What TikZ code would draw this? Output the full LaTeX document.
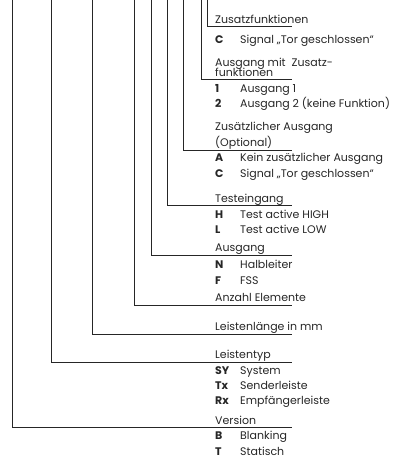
\documentclass[tikz,border=0pt]{standalone}
\usepackage{fontspec}
\setmainfont{Poppins}
\begin{document}
\begin{tikzpicture}[x=1pt,y=-1pt,
  conn/.style={line width=0.9pt, draw=black!85},
  txt/.style={anchor=base west, inner sep=0pt, font=\fontsize{11}{12}\selectfont, text=black!85},
  code/.style={txt, font=\fontsize{11}{12}\selectfont\bfseries}]
\useasboundingbox (0,0) rectangle (398,460);
% headings
\node[txt] (h1) at (215,23.3) {Zusatzfunktionen};
\node[code] (c1C) at (215,43.7) {C};
\node[txt] (d1C) at (240,43.7) {Signal „Tor geschlossen“};
\node[txt] (h2a) at (215,66.3) {Ausgang mit\ \ Zusatz-};
\node[txt] (h2b) at (215,76) {funktionen};
\node[code] (c21) at (215,92.7) {1};
\node[txt] (d21) at (240,92.7) {Ausgang 1};
\node[code] (c22) at (215,107.3) {2};
\node[txt] (d22) at (240,107.3) {Ausgang 2 (keine Funktion)};
\node[txt] (h3a) at (215,130.7) {Zusätzlicher Ausgang};
\node[txt] (h3b) at (215,146.7) {(Optional)};
\node[code] (c3A) at (215,161.7) {A};
\node[txt] (d3A) at (240,161.7) {Kein zusätzlicher Ausgang};
\node[code] (c3C) at (215,177.7) {C};
\node[txt] (d3C) at (240,177.7) {Signal „Tor geschlossen“};
\node[txt] (h4) at (215,202.3) {Testeingang};
\node[code] (c4H) at (215,218.3) {H};
\node[txt] (d4H) at (240,218.3) {Test active HIGH};
\node[code] (c4L) at (215,233.3) {L};
\node[txt] (d4L) at (240,233.3) {Test active LOW};
\node[txt] (h5) at (215,251.7) {Ausgang};
\node[code] (c5N) at (215,268.3) {N};
\node[txt] (d5N) at (240,268.3) {Halbleiter};
\node[code] (c5F) at (215,284) {F};
\node[txt] (d5F) at (240,284) {FSS};
\node[txt] (h6) at (215,301.7) {Anzahl Elemente};
\node[txt] (h7) at (215,330.7) {Leistenlänge in mm};
\node[txt] (h8) at (215,358.3) {Leistentyp};
\node[code] (c8SY) at (215,374) {SY};
\node[txt] (d8SY) at (240,374) {System};
\node[code] (c8Tx) at (215,389.3) {Tx};
\node[txt] (d8Tx) at (240,389.3) {Senderleiste};
\node[code] (c8Rx) at (215,404.3) {Rx};
\node[txt] (d8Rx) at (240,404.3) {Empfängerleiste};
\node[txt] (h9) at (215,424) {Version};
\node[code] (c9B) at (215,439.3) {B};
\node[txt] (d9B) at (240,439.3) {Blanking};
\node[code] (c9T) at (215,455) {T};
\node[txt] (d9T) at (240,455) {Statisch};
% connectors
\foreach \i/\x/\y in {1/207/26, 2/201/79, 3/183/150, 4/167/205.7, 5/151/255,
                      6/134/305.7, 7/92/334.3, 8/51/362.3, 9/12/427.3}{
  \coordinate (t\i) at (\x,0);
  \coordinate (e\i) at (292,\y);
  \draw[conn] (t\i) |- (e\i);
}
\end{tikzpicture}
\end{document}
